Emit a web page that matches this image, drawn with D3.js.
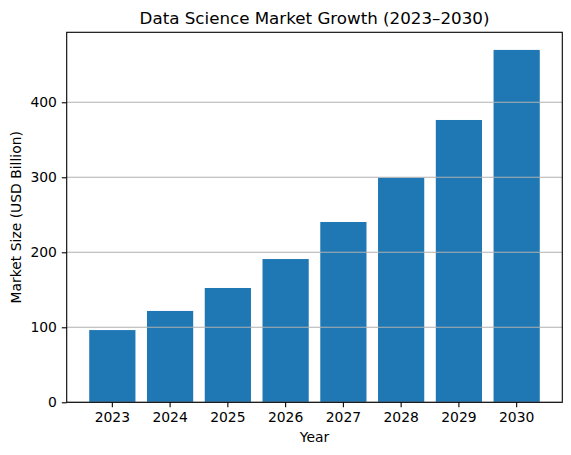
<!DOCTYPE html>
<html>
<head>
<meta charset="utf-8">
<script src="https://cdn.jsdelivr.net/npm/d3@7"></script>
<style>
  body { margin: 0; background: #fff; }
  text { font-family: "DejaVu Sans", sans-serif; fill: #000; }
</style>
</head>
<body>
<div id="chart"></div>
<script>
// data
const years = ['2023', '2024', '2025', '2026', '2027', '2028', '2029', '2030']
const marketSize = [96.3, 121.8, 152.4, 191, 240.4, 299.5, 376.4, 469.8]
const yTicks = [0, 100, 200, 300, 400]

const width = 571
const height = 455
const margin = { top: 32.3, right: 8.7, bottom: 52.7, left: 66.7 }
const barColor = '#1f77b4'
const gridColor = '#b0b0b0'

const svg = d3.select('#chart').append('svg')
  .attr('width', width)
  .attr('height', height)

const x = d3.scaleBand()
  .domain(years)
  .range([margin.left, width - margin.right])
  .paddingInner(0.2)
  .paddingOuter(0.39)

// matplotlib style 5% headroom
const y = d3.scaleLinear()
  .domain([0, d3.max(marketSize) * 1.05])
  .range([height - margin.bottom, margin.top])

// bars
svg.append('g')
  .selectAll('rect')
  .data(marketSize)
  .join('rect')
    .attr('x', (d, i) => x(years[i]))
    .attr('y', d => y(d))
    .attr('width', x.bandwidth())
    .attr('height', d => y(0) - y(d))
    .attr('fill', barColor)

// horizontal grid, drawn over the bars
svg.append('g')
  .selectAll('line')
  .data(yTicks)
  .join('line')
    .attr('x1', margin.left)
    .attr('x2', width - margin.right)
    .attr('y1', d => y(d))
    .attr('y2', d => y(d))
    .attr('stroke', gridColor)
    .attr('stroke-width', 1.1)

// axes
const xAxis = d3.axisBottom(x).tickSizeInner(4.9).tickSizeOuter(0).tickPadding(4.9)
const yAxis = d3.axisLeft(y).tickValues(yTicks).tickSizeInner(4.9).tickSizeOuter(0).tickPadding(4.9)

const gx = svg.append('g')
  .attr('transform', `translate(0,${height - margin.bottom})`)
  .call(xAxis)
const gy = svg.append('g')
  .attr('transform', `translate(${margin.left},0)`)
  .call(yAxis)

;[gx, gy].forEach(g => {
  g.select('.domain').remove()
  g.selectAll('.tick line').attr('stroke', '#000').attr('stroke-width', 1.1)
  g.selectAll('.tick text').attr('font-size', 13.9).attr('font-family', 'DejaVu Sans')
})

// frame (all four spines)
svg.append('rect')
  .attr('x', margin.left)
  .attr('y', margin.top)
  .attr('width', width - margin.left - margin.right)
  .attr('height', height - margin.top - margin.bottom)
  .attr('fill', 'none')
  .attr('stroke', '#000')
  .attr('stroke-width', 1.1)

const cx = (margin.left + width - margin.right) / 2
const cy = (margin.top + height - margin.bottom) / 2

svg.append('text')
  .attr('x', cx)
  .attr('y', 24)
  .attr('text-anchor', 'middle')
  .attr('font-size', 16.7)
  .text('Data Science Market Growth (2023–2030)')

svg.append('text')
  .attr('x', cx)
  .attr('y', 442)
  .attr('text-anchor', 'middle')
  .attr('font-size', 13.9)
  .text('Year')

svg.append('text')
  .attr('transform', `translate(21,${cy}) rotate(-90)`)
  .attr('text-anchor', 'middle')
  .attr('font-size', 13.9)
  .text('Market Size (USD Billion)')
</script>
</body>
</html>
